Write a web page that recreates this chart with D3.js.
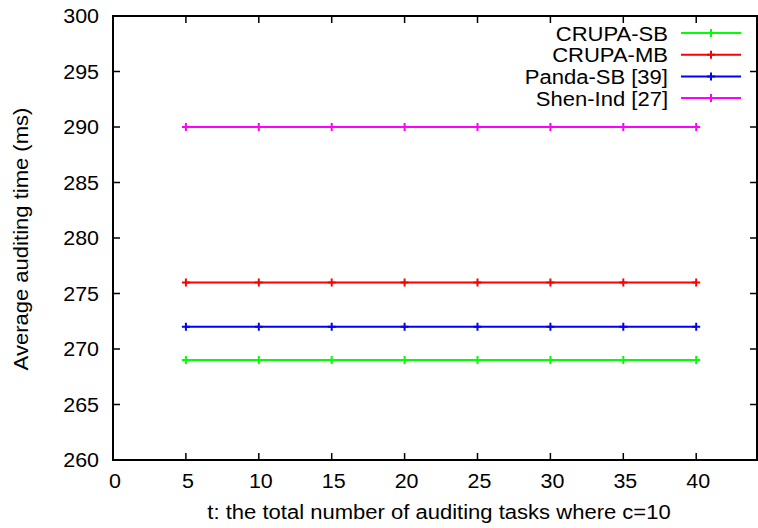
<!DOCTYPE html>
<html>
<head>
<meta charset="utf-8">
<script src="https://cdn.jsdelivr.net/npm/d3@7"></script>
<style>
  body { margin: 0; background: #fff; }
  text { font-family: "Liberation Sans", Arial, sans-serif; fill: #000; }
</style>
</head>
<body>
<svg id="chart"></svg>
<script>
// data
const tasks = [5, 10, 15, 20, 25, 30, 35, 40];
const seriesNames = ['CRUPA-SB', 'CRUPA-MB', 'Panda-SB [39]', 'Shen-Ind [27]'];
const seriesColors = ['#00ff00', '#ff0000', '#0000ff', '#ff00ff'];
const crupaSB = [269, 269, 269, 269, 269, 269, 269, 269];
const crupaMB = [276, 276, 276, 276, 276, 276, 276, 276];
const pandaSB = [272, 272, 272, 272, 272, 272, 272, 272];
const shenInd = [290, 290, 290, 290, 290, 290, 290, 290];
const xTicks = [0, 5, 10, 15, 20, 25, 30, 35, 40];
const yTicks = [260, 265, 270, 275, 280, 285, 290, 295, 300];

const width = 758, height = 528;
const margin = {top: 16, right: 1, bottom: 68, left: 113};
const innerW = width - margin.left - margin.right;
const innerH = height - margin.top - margin.bottom;

const svg = d3.select('#chart').attr('width', width).attr('height', height);
const g = svg.append('g').attr('transform', `translate(${margin.left},${margin.top})`);

const x = d3.scaleLinear().domain([0, 44.17]).range([0, innerW]);
const y = d3.scaleLinear().domain([260, 300]).range([innerH, 0]);

const series = [crupaSB, crupaMB, pandaSB, shenInd].map((vals, i) => ({
    name: seriesNames[i],
    color: seriesColors[i],
    points: tasks.map((t, j) => ({t: t, v: vals[j]}))
}));

// the original font is a wide helvetica, so stretch the text a bit
const fontSize = 19.5;
const addText = (parent, tx, ty, str, anchor, sx, rot) =>
    parent.append('text')
        .attr('transform', `translate(${tx},${ty})${rot ? ' rotate(-90)' : ''} scale(${sx},1)`)
        .attr('text-anchor', anchor).attr('font-size', fontSize).text(str);

// inward ticks on all four sides, gnuplot style
const tickLen = 7;
xTicks.filter(d => d !== 0).forEach(d => {
    g.append('line').attr('x1', x(d)).attr('x2', x(d)).attr('y1', innerH).attr('y2', innerH - tickLen)
        .attr('stroke', '#000').attr('stroke-width', 1.5);
    g.append('line').attr('x1', x(d)).attr('x2', x(d)).attr('y1', 0).attr('y2', tickLen)
        .attr('stroke', '#000').attr('stroke-width', 1.5);
});
xTicks.forEach(d => addText(g, x(d) + 2, innerH + 28, d, 'middle', 1.1));

yTicks.filter(d => d !== 260 && d !== 300).forEach(d => {
    g.append('line').attr('x1', 0).attr('x2', tickLen).attr('y1', y(d)).attr('y2', y(d))
        .attr('stroke', '#000').attr('stroke-width', 1.5);
    g.append('line').attr('x1', innerW).attr('x2', innerW - tickLen).attr('y1', y(d)).attr('y2', y(d))
        .attr('stroke', '#000').attr('stroke-width', 1.5);
});
yTicks.forEach(d => addText(g, -14, y(d) + 7, d, 'end', 1.1));

// frame
g.append('rect').attr('width', innerW).attr('height', innerH)
    .attr('fill', 'none').attr('stroke', '#000').attr('stroke-width', 2);

// series lines and plus markers
const line = d3.line().x(d => x(d.t)).y(d => y(d.v));
const m = 4;
series.forEach(s => {
    g.append('path').datum(s.points).attr('d', line)
        .attr('fill', 'none').attr('stroke', s.color).attr('stroke-width', 2);
    g.selectAll(null).data(s.points).join('path')
        .attr('d', d => `M${x(d.t) - m},${y(d.v)}H${x(d.t) + m}M${x(d.t)},${y(d.v) - m}V${y(d.v) + m}`)
        .attr('stroke', s.color).attr('stroke-width', 2).attr('fill', 'none');
});

// legend
const legend = svg.append('g');
series.forEach((s, i) => {
    const ly = 33 + i * 21.7;
    addText(legend, 668, ly + 7.5, s.name, 'end', 1.13);
    legend.append('line').attr('x1', 681).attr('x2', 741).attr('y1', ly).attr('y2', ly)
        .attr('stroke', s.color).attr('stroke-width', 2);
    legend.append('path').attr('d', `M707,${ly}H715M711,${ly - m}V${ly + m}`)
        .attr('stroke', s.color).attr('stroke-width', 2);
});

// axis titles
addText(svg, 439, 519, 't: the total number of auditing tasks where c=10', 'middle', 1.13);
addText(svg, 28, 239, 'Average auditing time (ms)', 'middle', 1.13, true);
</script>
</body>
</html>
